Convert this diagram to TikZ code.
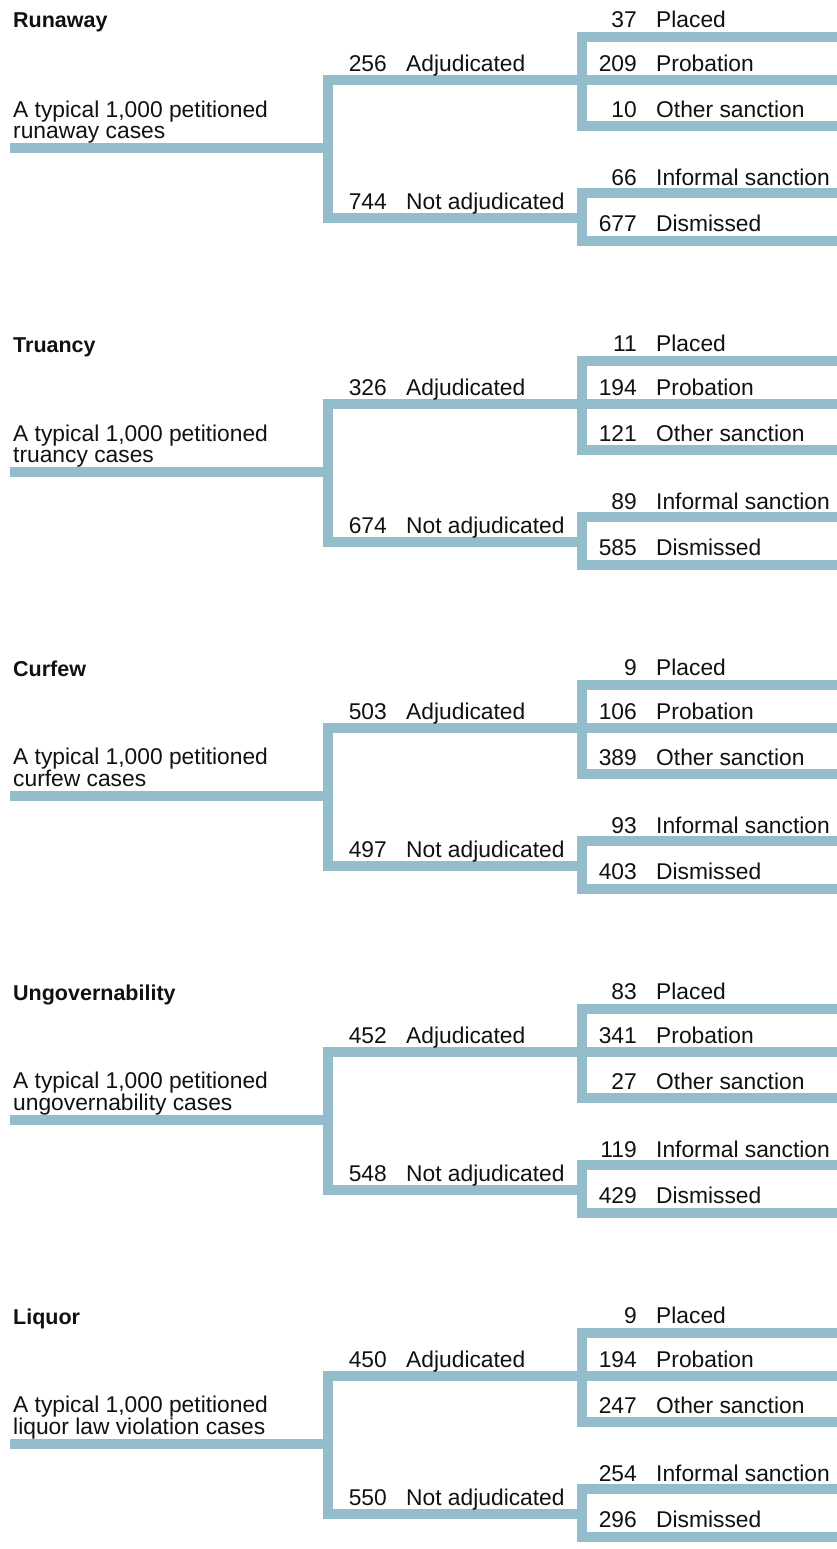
\documentclass[tikz,border=0pt]{standalone}
\usepackage{fontspec}
\setmainfont{Liberation Sans}
\usepackage{xcolor}
\usepackage{tikz}
\usetikzlibrary{positioning}
\definecolor{BranchBlue}{HTML}{94BDCC}
\definecolor{TextBlack}{HTML}{111111}

\tikzset{
  branch/.style={draw=BranchBlue, line width=10pt, line join=miter},
  casetext/.style={inner sep=0pt, text=TextBlack, font=\fontsize{22.8}{21}\selectfont},
  count/.style={casetext, anchor=base east},
  outcome/.style={casetext, anchor=base west},
  heading/.style={inner sep=0pt, anchor=base west, text=TextBlack,
    font=\fontsize{21.5}{24}\selectfont\bfseries},
}

\begin{document}
\begin{tikzpicture}[x=1pt, y=-1pt]
  \useasboundingbox (0,0) rectangle (837,1549);
  \foreach \yo/\hdr/\kind/\nadj/\nnot/\nplc/\nprb/\noth/\ninf/\ndis [count=\i] in {
      0/Runaway/runaway/256/744/37/209/10/66/677,
      324/Truancy/truancy/326/674/11/194/121/89/585,
      648/Curfew/curfew/503/497/9/106/389/93/403,
      972/Ungovernability/ungovernability/452/548/83/341/27/119/429,
      1296/Liquor/liquor law violation/450/550/9/194/247/254/296}{
    \begin{scope}[shift={(0,\yo)}]
      \coordinate (p\i-start) at (10,148);
      \coordinate (p\i-split) at (328,148);
      \coordinate (p\i-adj) at (582,80);
      \coordinate (p\i-not) at (582,218);
      \coordinate (p\i-plc) at (837,37);
      \coordinate (p\i-prb) at (837,80);
      \coordinate (p\i-oth) at (837,126);
      \coordinate (p\i-inf) at (837,193);
      \coordinate (p\i-dis) at (837,241);

      \draw[branch] (p\i-start) -- (p\i-split);
      \draw[branch] (p\i-split) |- (p\i-adj);
      \draw[branch] (p\i-split) |- (p\i-not);
      \draw[branch] (p\i-adj) |- (p\i-plc);
      \draw[branch] (p\i-adj) -- (p\i-prb);
      \draw[branch] (p\i-adj) |- (p\i-oth);
      \draw[branch] (p\i-not) |- (p\i-inf);
      \draw[branch] (p\i-not) |- (p\i-dis);

      \node[heading] (p\i-head) at (13,28) {\hdr};
      \node[outcome, align=left] (p\i-root) at (13,138.5)
        {A typical 1,000 petitioned\\\kind{} cases};

      \node[count] (p\i-nadj) at (387,71.5) {\nadj};
      \node[casetext, base right=19pt of p\i-nadj] (p\i-tadj) {Adjudicated};
      \node[count] (p\i-nnot) at (387,209.5) {\nnot};
      \node[casetext, base right=19pt of p\i-nnot] (p\i-tnot) {Not adjudicated};

      \node[count] (p\i-nplc) at (637,27.5) {\nplc};
      \node[casetext, base right=19pt of p\i-nplc] (p\i-tplc) {Placed};
      \node[count] (p\i-nprb) at (637,71.5) {\nprb};
      \node[casetext, base right=19pt of p\i-nprb] (p\i-tprb) {Probation};
      \node[count] (p\i-noth) at (637,117.5) {\noth};
      \node[casetext, base right=19pt of p\i-noth] (p\i-toth) {Other sanction};
      \node[count] (p\i-ninf) at (637,185.5) {\ninf};
      \node[casetext, base right=19pt of p\i-ninf] (p\i-tinf) {Informal sanction};
      \node[count] (p\i-ndis) at (637,231.5) {\ndis};
      \node[casetext, base right=19pt of p\i-ndis] (p\i-tdis) {Dismissed};
    \end{scope}
  }
\end{tikzpicture}
\end{document}
